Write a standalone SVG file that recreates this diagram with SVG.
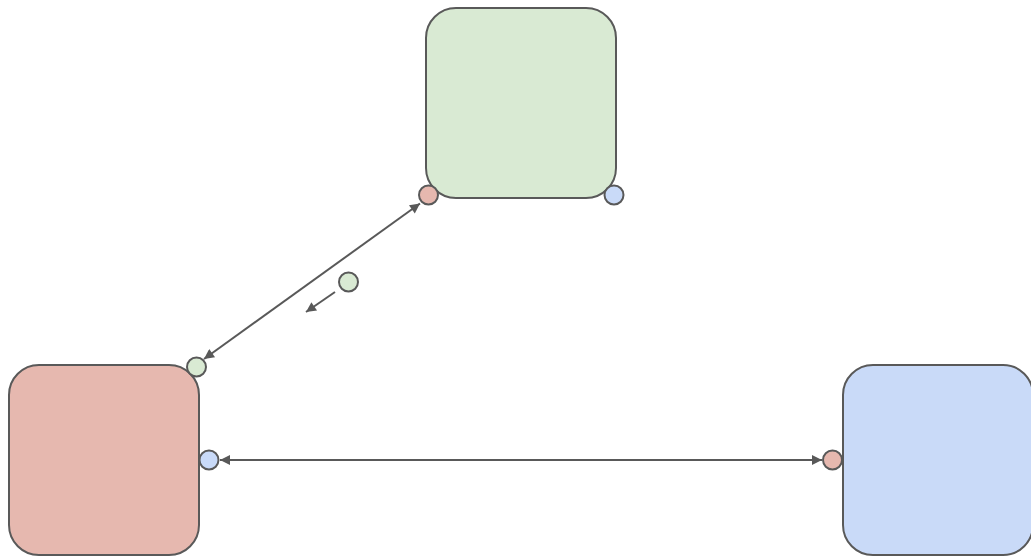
<svg xmlns="http://www.w3.org/2000/svg" width="1031" height="557" viewBox="0 0 1031 557">
  <style>
    .box { stroke: #595959; stroke-width: 2; }
    .port { stroke: #595959; stroke-width: 2; }
    .edge { fill: none; stroke: #595959; stroke-width: 2; }
    .green { fill: #d9ead3; }
    .red { fill: #e6b8af; }
    .blue { fill: #c9daf8; }
  </style>
  <defs>
    <marker id="arrow" viewBox="0 0 10 10" refX="10" refY="5" markerWidth="6" markerHeight="6" markerUnits="userSpaceOnUse" orient="auto-start-reverse">
      <path d="M0,0 L10,5 L0,10 z" fill="#595959"/>
    </marker>
    <marker id="head" viewBox="0 0 10 10" refX="10" refY="5" markerWidth="12" markerHeight="10" markerUnits="userSpaceOnUse" orient="auto-start-reverse">
      <path d="M0,0 L10,5 L0,10 z" fill="#595959"/>
    </marker>
  </defs>

  <!-- connectors -->
  <g id="connectors">
    <line class="edge" x1="420" y1="203.5" x2="204" y2="359" marker-start="url(#head)" marker-end="url(#head)"/>
    <line class="edge" x1="335" y1="292" x2="306" y2="312" marker-end="url(#head)"/>
    <line class="edge" x1="220" y1="460" x2="822" y2="460" marker-start="url(#head)" marker-end="url(#head)"/>
  </g>

  <!-- top node -->
  <g id="node-green">
    <rect class="box green" x="426" y="8" width="190" height="190" rx="30" ry="30"/>
    <circle class="port red" cx="428.5" cy="195" r="9.5"/>
    <circle class="port blue" cx="614" cy="195" r="9.5"/>
  </g>

  <!-- left node -->
  <g id="node-red">
    <rect class="box red" x="9" y="365" width="190" height="190" rx="30" ry="30"/>
    <circle class="port green" cx="196.5" cy="367" r="9.5"/>
    <circle class="port blue" cx="209" cy="460" r="9.5"/>
  </g>

  <!-- right node -->
  <g id="node-blue">
    <rect class="box blue" x="843" y="365" width="190" height="190" rx="30" ry="30"/>
    <circle class="port red" cx="832.5" cy="460" r="9.5"/>
  </g>

  <!-- free port -->
  <g id="port-free">
    <circle class="port green" cx="348.5" cy="282" r="9.5"/>
  </g>
</svg>
